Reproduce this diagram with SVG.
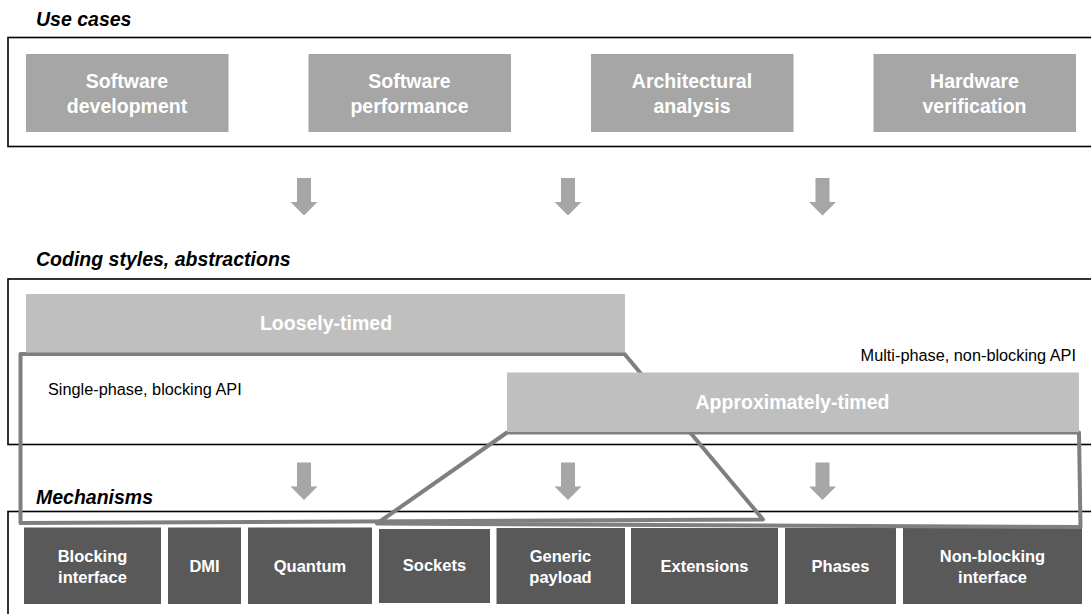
<svg xmlns="http://www.w3.org/2000/svg" xmlns:xlink="http://www.w3.org/1999/xlink" width="1091" height="614" viewBox="0 0 1091 614">
  <defs>
    <style>
      .frame { fill: none; stroke: #000; stroke-width: 1.6; }
      .heading { font-family: "Liberation Sans", Arial, sans-serif; font-size: 19.5px; font-weight: bold; font-style: italic; fill: #000; }
      .uc { fill: #a6a6a6; }
      .style { fill: #bfbfbf; }
      .mech { fill: #595959; }
      .btxt { font-family: "Liberation Sans", Arial, sans-serif; font-size: 19.5px; font-weight: bold; fill: #fff; text-anchor: middle; }
      .mtxt { font-family: "Liberation Sans", Arial, sans-serif; font-size: 16.5px; font-weight: bold; fill: #fff; text-anchor: middle; }
      .note { font-family: "Liberation Sans", Arial, sans-serif; font-size: 16.3px; fill: #000; }
      .arrow { fill: #a6a6a6; }
      .outline { fill: none; stroke: #7f7f7f; stroke-width: 4; stroke-linejoin: round; }
    </style>
    <path id="arr" d="M-7,0 H7 V24 H13.5 L0,37.5 L-13.5,24 H-7 Z"/>
  </defs>

  <rect width="1091" height="614" fill="#fff"/>

  <!-- section frames -->
  <g id="sections">
    <rect class="frame" x="8" y="37.5" width="1100" height="109"/>
    <rect class="frame" x="8" y="279" width="1100" height="165.5"/>
    <rect class="frame" x="8" y="511.5" width="1100" height="120"/>
    <text class="heading" x="36" y="26">Use cases</text>
    <text class="heading" x="36" y="266">Coding styles, abstractions</text>
    <text class="heading" x="36" y="504">Mechanisms</text>
  </g>

  <!-- mechanisms -->
  <g id="blocking-interface">
    <rect class="mech" x="24" y="527.5" width="137" height="76.5"/>
    <text class="mtxt" x="92.5" y="561.5">Blocking</text>
    <text class="mtxt" x="92.5" y="583">interface</text>
  </g>
  <g id="dmi">
    <rect class="mech" x="168" y="527.5" width="73" height="76.5"/>
    <text class="mtxt" x="204.5" y="572">DMI</text>
  </g>
  <g id="quantum">
    <rect class="mech" x="248" y="527.5" width="124" height="76.5"/>
    <text class="mtxt" x="310" y="572">Quantum</text>
  </g>
  <g id="sockets">
    <rect class="mech" x="379" y="529" width="111" height="74"/>
    <text class="mtxt" x="434.5" y="571">Sockets</text>
  </g>
  <g id="generic-payload">
    <rect class="mech" x="496.5" y="528" width="128.5" height="76"/>
    <text class="mtxt" x="560.5" y="561.5">Generic</text>
    <text class="mtxt" x="560.5" y="583">payload</text>
  </g>
  <g id="extensions">
    <rect class="mech" x="631" y="528" width="147" height="76"/>
    <text class="mtxt" x="704.5" y="572">Extensions</text>
  </g>
  <g id="phases">
    <rect class="mech" x="785" y="528" width="111" height="76"/>
    <text class="mtxt" x="840.5" y="572">Phases</text>
  </g>
  <g id="non-blocking-interface">
    <rect class="mech" x="903" y="528" width="179" height="76"/>
    <text class="mtxt" x="992.5" y="561.5">Non-blocking</text>
    <text class="mtxt" x="992.5" y="583">interface</text>
  </g>

  <!-- use cases -->
  <g id="software-development">
    <rect class="uc" x="26" y="54" width="202.5" height="78"/>
    <text class="btxt" x="127" y="88">Software</text>
    <text class="btxt" x="127" y="113">development</text>
  </g>
  <g id="software-performance">
    <rect class="uc" x="308.5" y="54" width="202.5" height="78"/>
    <text class="btxt" x="409.5" y="88">Software</text>
    <text class="btxt" x="409.5" y="113">performance</text>
  </g>
  <g id="architectural-analysis">
    <rect class="uc" x="591" y="54" width="202.5" height="78"/>
    <text class="btxt" x="692" y="88">Architectural</text>
    <text class="btxt" x="692" y="113">analysis</text>
  </g>
  <g id="hardware-verification">
    <rect class="uc" x="873.5" y="54" width="202.5" height="78"/>
    <text class="btxt" x="974.5" y="88">Hardware</text>
    <text class="btxt" x="974.5" y="113">verification</text>
  </g>

  <!-- connectors -->
  <g id="connectors" class="arrow">
    <use xlink:href="#arr" href="#arr" transform="translate(304,178)"/>
    <use xlink:href="#arr" href="#arr" transform="translate(568,178)"/>
    <use xlink:href="#arr" href="#arr" transform="translate(822.5,178)"/>
    <use xlink:href="#arr" href="#arr" transform="translate(304,462.5)"/>
    <use xlink:href="#arr" href="#arr" transform="translate(568,462.5)"/>
    <use xlink:href="#arr" href="#arr" transform="translate(822.5,462.5)"/>
  </g>

  <!-- scope outlines -->
  <g id="scopes">
    <polygon id="lt-scope" class="outline" points="20.5,354 624.5,354 763,519.5 20.5,523"/>
    <polygon id="at-scope" class="outline" points="507,432.5 1079,432.5 1080.5,527 377,523.5"/>
  </g>

  <!-- coding styles -->
  <g id="loosely-timed">
    <rect class="style" x="26" y="294" width="599" height="58.5"/>
    <text class="btxt" x="326" y="330">Loosely-timed</text>
  </g>
  <g id="approximately-timed">
    <rect class="style" x="507" y="372.5" width="572" height="59.5"/>
    <text class="btxt" x="792.5" y="409">Approximately-timed</text>
  </g>

  <g id="labels">
    <text class="note" x="48" y="394.5">Single-phase, blocking API</text>
    <text class="note" x="1076" y="361" text-anchor="end">Multi-phase, non-blocking API</text>
  </g>
</svg>
